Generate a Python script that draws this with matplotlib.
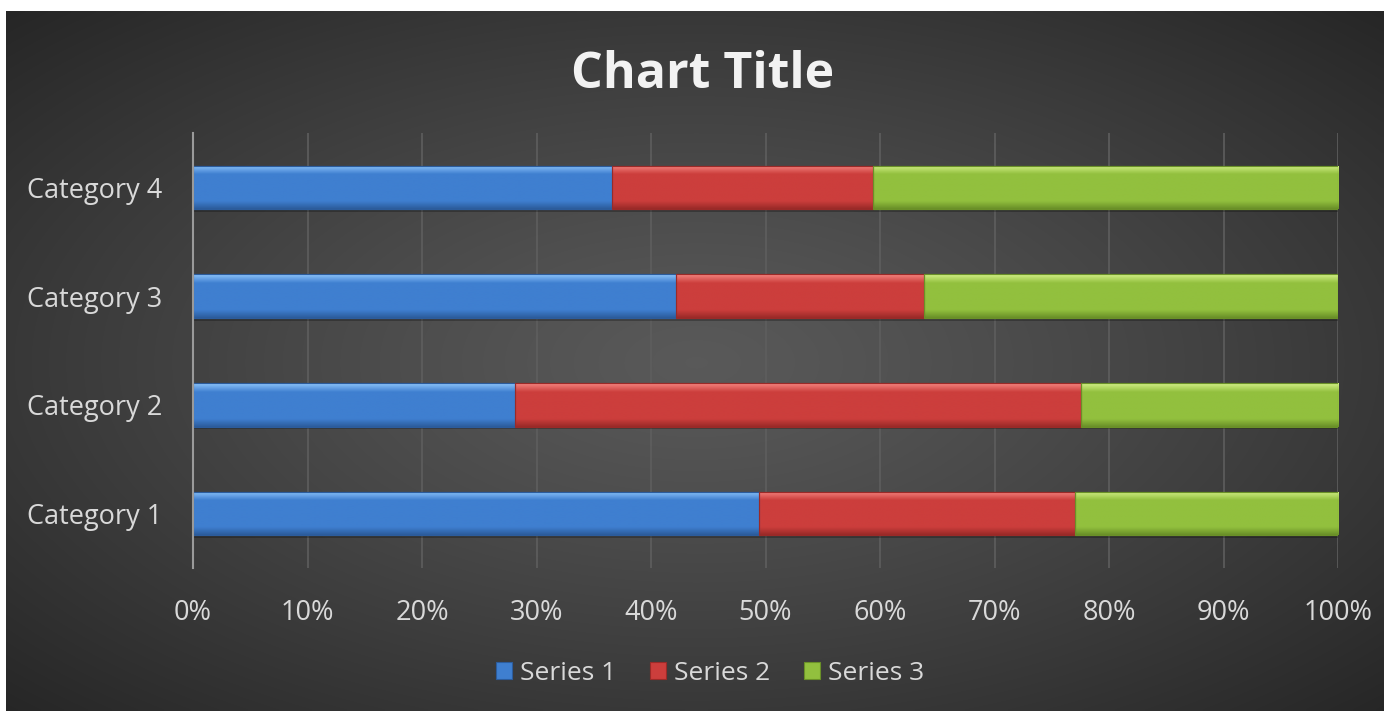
import numpy as np
import matplotlib
matplotlib.use("Agg")
import matplotlib.pyplot as plt
from matplotlib.patches import Rectangle
from matplotlib.ticker import PercentFormatter

categories = ["Category 1", "Category 2", "Category 3", "Category 4"]
series_names = ["Series 1", "Series 2", "Series 3"]
series1 = [4.3, 2.5, 3.5, 4.5]
series2 = [2.4, 4.4, 1.8, 2.8]
series3 = [2.0, 2.0, 3.0, 5.0]
colors = ["#3f7fd0", "#cc3e3c", "#92c03e"]
light = ["#8cc3fa", "#f5847f", "#d2ef86"]
dark = ["#2c5c9c", "#9a2a28", "#6a9028"]

plt.rcParams['font.family'] = ['Open Sans', 'DejaVu Sans']
W, H = 1384, 711
fig = plt.figure(figsize=(W / 100, H / 100), dpi=100, facecolor="white")

# background radial gradient
bg = fig.add_axes([6 / W, 0, 1 - 6 / W, (H - 11) / H])
bg.set_axis_off()
yy, xx = np.mgrid[0:200, 0:400]
cx, cy = 200, 100
r = np.sqrt(((xx - cx) / 200) ** 2 + ((yy - cy) / 100) ** 2) / np.sqrt(2)
v = 0.35 - 0.20 * np.clip(r, 0, 1) ** 1.2
img = np.dstack([v, v, v])
bg.imshow(img, aspect="auto", extent=[0, 1, 0, 1], interpolation="bilinear")
bg.set_xlim(0, 1)
bg.set_ylim(0, 1)

ax = fig.add_axes([193 / W, (H - 568) / H, (1338 - 193) / W, (568 - 133) / H])
ax.patch.set_alpha(0)

data = np.array([series1, series2, series3], dtype=float)
pct = data / data.sum(axis=0) * 100
y = np.arange(len(categories))
h = 0.40
left = np.zeros(len(categories))
grad = np.linspace(0, 1, 60)
for i, name in enumerate(series_names):
    bars = ax.barh(y, pct[i], left=left, height=h, color=colors[i],
                   edgecolor=dark[i], linewidth=0.8, label=name, zorder=3)
    c0 = np.array(matplotlib.colors.to_rgb(colors[i]))
    cl = np.array(matplotlib.colors.to_rgb(light[i]))
    cd = np.array(matplotlib.colors.to_rgb(dark[i]))
    t = grad[:, None]
    col = np.where(t < 0.2, cl + (c0 - cl) * (t / 0.2),
                   np.where(t > 0.82, c0 + (cd - c0) * ((t - 0.82) / 0.18), c0))
    for b in bars:
        x0, y0 = b.get_x(), b.get_y()
        w, hh = b.get_width(), b.get_height()
        ax.add_patch(Rectangle((x0, y0 - 0.025), w, hh, color="black", alpha=0.25,
                               zorder=2.5, linewidth=0))
        im = ax.imshow(col[:, None, :], extent=[x0, x0 + w, y0, y0 + hh],
                       origin="upper", aspect="auto", zorder=3.5, interpolation="bilinear")
        im.set_clip_path(b)
        ax.add_patch(Rectangle((x0, y0), w, hh, fill=False, edgecolor=dark[i],
                               linewidth=0.8, zorder=4))
    left += pct[i]

ax.set_xlim(0, 100)
ax.set_ylim(-0.5, 3.5)
ax.xaxis.set_major_formatter(PercentFormatter(decimals=0))
ax.set_xticks(np.arange(0, 101, 10))
ax.set_yticks(y)
ax.set_yticklabels(categories)
ax.grid(axis="x", color="#5e5e5e", linewidth=1.2, zorder=0)
ax.set_axisbelow(True)
for s in ["top", "right", "bottom"]:
    ax.spines[s].set_visible(False)
ax.spines["left"].set_color("#9a9a9a")
ax.spines["left"].set_linewidth(1.5)
ax.spines["left"].set_zorder(5)
ax.tick_params(axis="both", length=0, colors="#d9d9d9", labelsize=19.5)
ax.tick_params(axis="x", pad=22)
ax.tick_params(axis="y", pad=22)

fig.text(703 / W, 1 - 88 / H, "Chart Title", ha="center", va="baseline",
         fontsize=36, fontweight="bold", color="#f2f2f2")

handles, labels = ax.get_legend_handles_labels()
leg = fig.legend(handles, labels, loc="center", bbox_to_anchor=(710 / W, 1 - 673 / H),
                 ncol=3, frameon=False, fontsize=19, labelcolor="#d9d9d9",
                 handlelength=0.6, handleheight=0.6, handletextpad=0.3, columnspacing=1.3)

fig.savefig("out.png", dpi=100, facecolor="white")
